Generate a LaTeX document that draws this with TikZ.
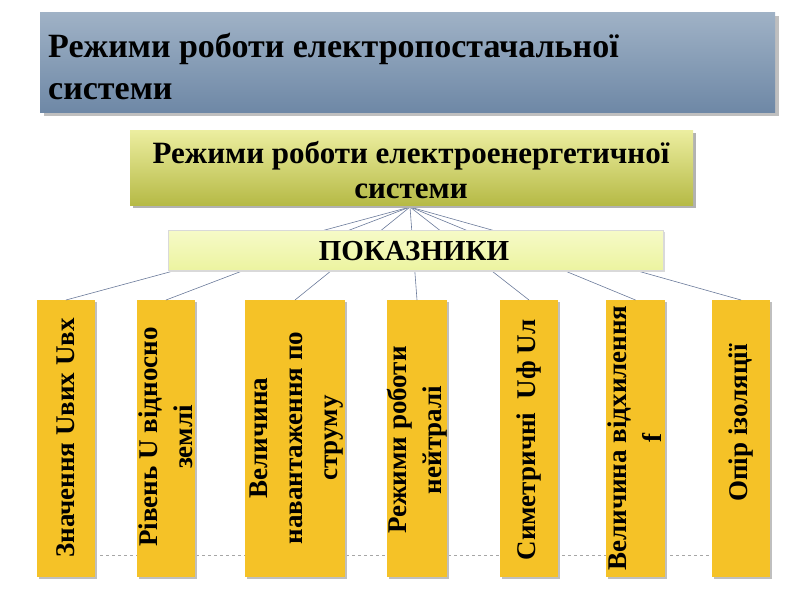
\documentclass[tikz,border=0pt]{standalone}
\usepackage{fontspec}
\setmainfont{Liberation Serif}
\begin{document}
\begin{tikzpicture}[x=1pt,y=-1pt,
  coltxt/.style={rotate=90,font=\bfseries\fontsize{27}{35}\selectfont,align=center,inner sep=0pt},
  conn/.style={draw=lineC,line width=0.6pt}]
\definecolor{colY}{HTML}{F5C227}
\definecolor{lineC}{HTML}{6A7A9A}
\useasboundingbox (0,0) rectangle (800,600);
% title
\fill[black!25] (44,16) rectangle (779,116);
\shade[top color={rgb,255:red,160;green,178;blue,198},bottom color={rgb,255:red,110;green,136;blue,166}] (40,12) rectangle (775,112);
\node[anchor=west,align=left,inner sep=0pt,font=\bfseries\fontsize{34}{42}\selectfont] (title) at (48,66) {Режими роботи електропостачальної\\системи};
% dashed
\draw[gray!70,dashed] (40,555) -- (770,555);
% columns
\foreach \n/\a/\b in {c1/37/95,c2/137/195,c3/245/345,c4/387/447,c5/500/558,c6/606/665,c7/712/770}{
  \fill[black!25] (\a+2,302) rectangle (\b+2,579);
  \fill[colY] (\a,300) rectangle (\b,577);
  \coordinate (\n) at ({(\a+\b)/2},300);
}
\coordinate (top) at (410,207);
\foreach \n in {c1,c2,c3,c4,c5,c6,c7}{\draw[conn] (top) -- (\n);}
% second box
\fill[black!30] (133,133) rectangle (696,208);
\shade[top color={rgb,255:red,236;green,238;blue,160},bottom color={rgb,255:red,182;green,186;blue,70}] (130,130) rectangle (693,205);
\node[align=center,font=\bfseries\fontsize{31}{35}\selectfont] (sys) at (411,170) {Режими роботи електроенергетичної\\системи};
% pokazniky
\fill[black!15] (170,232) rectangle (665,272);
\shade[top color={rgb,255:red,246;green,250;blue,200},bottom color={rgb,255:red,236;green,244;blue,160},draw=black!15] (168,230) rectangle (663,270);
\node[font=\bfseries\fontsize{29}{30}\selectfont] (pok) at (414,251) {ПОКАЗНИКИ};
% column texts
\node[coltxt] (t1) at (66,438) {Значення Uвих Uвх};
\node[coltxt] (t2) at (166,437) {Рівень U відносно\\землі};
\node[coltxt] (t3) at (297,438) {Величина\\навантаження по\\струму};
\node[coltxt] (t4) at (417,440) {Режими роботи\\нейтралі};
\node[coltxt] (t5) at (529,440) {Симетричні\ \ Uф Uл};
\node[coltxt] (t6) at (635,438) {Величина відхилення\\f};
\node[coltxt] (t7) at (741,423) {Опір ізоляції};
\end{tikzpicture}
\end{document}
